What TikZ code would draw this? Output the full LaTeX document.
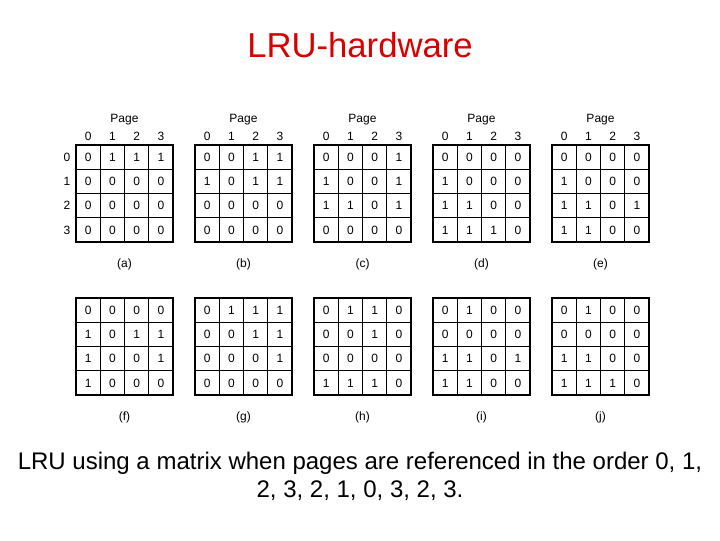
\documentclass[tikz,border=0pt]{standalone}
\usepackage{fontspec}
\setmainfont{Liberation Sans}
\tikzset{
  cell/.style={shape=rectangle, draw=black, line width=1pt, minimum size=18.2pt, inner sep=0pt, font=\fontsize{9}{10}\selectfont},
  hdr/.style={font=\fontsize{9}{10}\selectfont, inner sep=0pt},
  sub/.style={font=\fontsize{9}{10}\selectfont, inner sep=0pt}
}
% one 4x4 matrix: name, left x, top y, rows, label
\newcommand{\lrumat}[5]{%
  \foreach \row [count=\r] in {#4} {
    \foreach \v [count=\c] in \row {
      \node[cell] (#1-\r-\c) at ({#2+(\c-0.5)*24.25},{#3+(\r-0.5)*24.25}) {\v};
    }
  }
  \node[sub] (#1-lab) at ({#2+48.5},{#3+119}) {#5};
}
\begin{document}
\begin{tikzpicture}[x=0.75pt, y=-0.75pt]
\useasboundingbox (0,0) rectangle (720,540);
\node[text=red!85!black, font=\fontsize{26}{30}\selectfont] (title) at (360,45) {LRU-hardware};

\lrumat{a}{76}{145}{{0,1,1,1},{0,0,0,0},{0,0,0,0},{0,0,0,0}}{(a)}
\lrumat{b}{195}{145}{{0,0,1,1},{1,0,1,1},{0,0,0,0},{0,0,0,0}}{(b)}
\lrumat{c}{314}{145}{{0,0,0,1},{1,0,0,1},{1,1,0,1},{0,0,0,0}}{(c)}
\lrumat{d}{433}{145}{{0,0,0,0},{1,0,0,0},{1,1,0,0},{1,1,1,0}}{(d)}
\lrumat{e}{552}{145}{{0,0,0,0},{1,0,0,0},{1,1,0,1},{1,1,0,0}}{(e)}

\lrumat{f}{76}{298}{{0,0,0,0},{1,0,1,1},{1,0,0,1},{1,0,0,0}}{(f)}
\lrumat{g}{195}{298}{{0,1,1,1},{0,0,1,1},{0,0,0,1},{0,0,0,0}}{(g)}
\lrumat{h}{314}{298}{{0,1,1,0},{0,0,1,0},{0,0,0,0},{1,1,1,0}}{(h)}
\lrumat{i}{433}{298}{{0,1,0,0},{0,0,0,0},{1,1,0,1},{1,1,0,0}}{(i)}
\lrumat{j}{552}{298}{{0,1,0,0},{0,0,0,0},{1,1,0,0},{1,1,1,0}}{(j)}

% headers above the top row
\foreach \m/\x in {a/76,b/195,c/314,d/433,e/552} {
  \node[hdr] (\m-page) at ({\x+48.5},120) {Page};
  \foreach \k [count=\c] in {0,1,2,3}
    \node[hdr] (\m-col-\k) at ({\x+(\c-0.5)*24.25},136) {\k};
}
\foreach \k [count=\r] in {0,1,2,3}
  \node[hdr] (a-row-\k) at (67,{145+(\r-0.5)*24.25}) {\k};

\node[font=\fontsize{18}{21}\selectfont, align=center] (caption) at (360,476)
  {LRU using a matrix when pages are referenced in the order 0, 1,\\ 2, 3, 2, 1, 0, 3, 2, 3.};
\end{tikzpicture}
\end{document}
